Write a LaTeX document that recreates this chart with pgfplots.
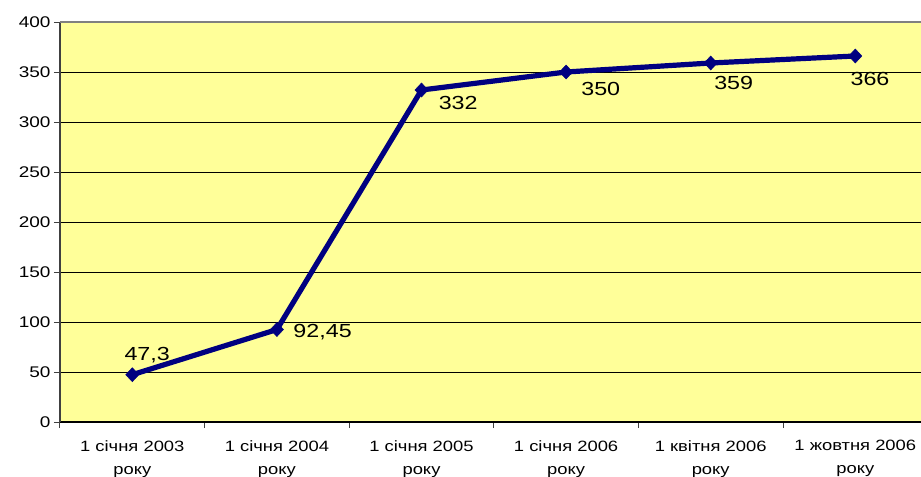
\documentclass[border=0pt]{standalone}
\usepackage{fontspec}
\setmainfont[FakeStretch=1.23]{Liberation Sans}
\usepackage{pgfplots}
\pgfplotsset{compat=1.18}
\usepackage{pgfplotstable}
\usetikzlibrary{calc}

\definecolor{plotbg}{HTML}{FFFF99}
\definecolor{navyline}{HTML}{000080}

% values and label offsets (bp)
\pgfplotstableread{
x y     dx    dy    label
0 47.3  -8    14.7  47,3
1 92.45 16.3  -7.8  92,45
2 332   17    -19   332
3 350   15    -23   350
4 359   3.3   -26.7 359
5 366   -5    -29   366
}\datatable

\begin{document}
\begin{tikzpicture}
\begin{axis}[
    name=ax,
    scale only axis,
    width=867.6bp, height=400bp,
    xmin=-0.5, xmax=5.5,
    ymin=0, ymax=400,
    ytick={0,50,...,400},
    xtick={-0.5,0.5,...,5.5},
    x tick label as interval,
    xticklabels={{1 січня 2003\\року},{1 січня 2004\\року},{1 січня 2005\\року},
                 {1 січня 2006\\року},{1 квітня 2006\\року},{1 жовтня 2006\\року}},
    xticklabel style={align=center, yshift=-9bp, font=\fontsize{15}{23}\selectfont},
    yticklabel style={font=\fontsize{15.5}{18}\selectfont},
    /pgf/number format/assume math mode=true,
    tick align=outside,
    major tick length=6bp,
    tick style={darkgray, line width=1bp},
    ymajorgrids=true,
    grid style={black, line width=0.8bp},
    axis background/.style={fill=plotbg},
    axis x line*=bottom,
    axis y line*=left,
    x axis line style={-, black, line width=1.2bp},
    y axis line style={-, darkgray, line width=2bp},
    after end axis/.code={
        \draw[gray, line width=1.6bp] (rel axis cs:0,1) -- (rel axis cs:1,1);
    },
]
\addplot[
    color=navyline,
    line width=5.2bp,
    mark=diamond*,
    mark size=7bp,
    mark options={solid, line width=0.5bp, xscale=1.25},
    nodes near coords,
    point meta=explicit symbolic,
    visualization depends on={\thisrow{dx}\as\dx},
    visualization depends on={\thisrow{dy}\as\dy},
    nodes near coords style={anchor=base west, xshift=\dx bp, yshift=\dy bp,
        text=black, inner sep=0pt, font=\fontsize{19}{22}\selectfont},
] table[x=x, y=y, meta=label] {\datatable};
\end{axis}
\pgfresetboundingbox
\path ($(ax.south west)+(-60bp,-55bp)$) rectangle ($(ax.north east)+(-6.6bp,22bp)$);
\end{tikzpicture}
\end{document}
